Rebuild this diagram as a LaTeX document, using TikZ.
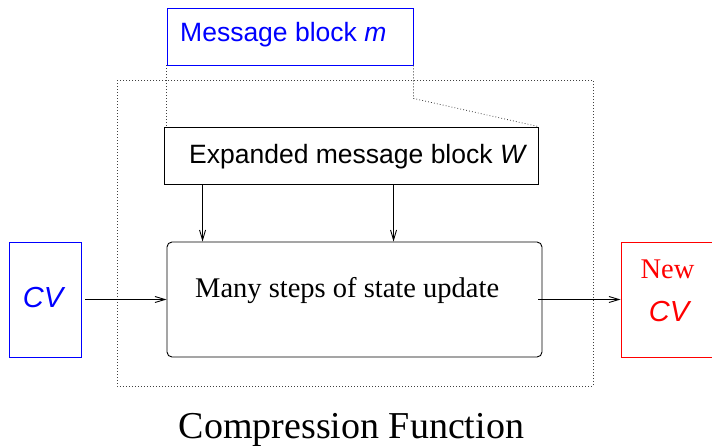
\documentclass[tikz,border=0pt]{standalone}
\usepackage{fontspec}
\setmainfont{Liberation Serif}
\setsansfont{Liberation Sans}
\usetikzlibrary{arrows.meta}
\begin{document}
\begin{tikzpicture}[x=1pt,y=-1pt,
  box/.style={draw, line width=0.9pt, inner sep=0pt, minimum width=#1},
  box/.default=10pt,
  txt/.style={inner sep=0pt, anchor=base west},
  sanslbl/.style={font=\sffamily\fontsize{26.5}{30}\selectfont},
  seriflbl/.style={font=\rmfamily\fontsize{28.5}{32}\selectfont},
  cvlbl/.style={font=\sffamily\itshape\fontsize{29}{32}\selectfont},
  arr/.style={-{Straight Barb[length=10pt,width=6pt]}, line width=0.9pt},
  dots/.style={line width=0.8pt, black!75, dash pattern=on 0.8pt off 2.2pt}]
\useasboundingbox (0,0) rectangle (712,445);
\clip (0,0) rectangle (712,445);

% outer dotted frame
\draw[dots] (117,80) rectangle (593,386);

% boxes
\node[box=246pt, draw=blue, minimum height=57pt] (m) at (290,36.5) {};
\node[box=374pt, minimum height=57pt, fill=white] (w) at (351,155.5) {};
\node[box=375pt, minimum height=115pt, rounded corners=5pt] (main) at (354.5,299.5) {};
\node[box=72pt, draw=blue, minimum height=115pt] (cv) at (45,299.5) {};
\node[box=109pt, draw=red, minimum height=115pt] (new) at (675.5,299.5) {};

% dotted projection lines
\draw[dots] (m.south west) -- (m.south west |- w.north);
\draw[dots] (m.south east) -- ++(0,33) coordinate (bend) -- (w.north east);

% labels
\node[txt, sanslbl, text=blue] (mt) at (180,41) {Message block \textit{m}};
\node[txt, sanslbl] (wt) at (189,163) {Expanded message block \textit{W}};
\node[txt, seriflbl] (st) at (195,297) {Many steps of state update};
\node[inner sep=0pt, anchor=base, cvlbl, text=blue] (cvt) at (43,307) {CV};
\node[inner sep=0pt, anchor=base, seriflbl, text=red] (newt) at (667.5,278) {New};
\node[inner sep=0pt, anchor=base, cvlbl, text=red] (cvt2) at (669,321) {CV};
\node[inner sep=0pt, anchor=base, font=\rmfamily\fontsize{38}{42}\selectfont] (title) at (351.5,438) {Compression Function};

% arrows
\draw[arr] ([xshift=39pt]w.south west) -- ([xshift=39pt]w.south west |- main.north);
\draw[arr] ([xshift=230pt]w.south west) -- ([xshift=230pt]w.south west |- main.north);
\draw[arr] ([xshift=4pt]cv.east) -- (main.west);
\draw[arr] ([xshift=-4pt]main.east) -- (new.west);
\end{tikzpicture}
\end{document}
